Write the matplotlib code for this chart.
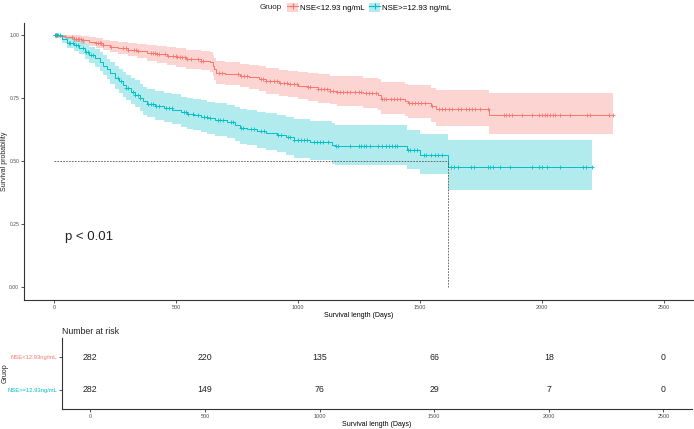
import matplotlib
matplotlib.use("Agg")
import matplotlib.pyplot as plt
import numpy as np
from matplotlib.lines import Line2D
from matplotlib.patches import Rectangle
from matplotlib.legend_handler import HandlerTuple

plt.rcParams['font.family'] = ['Liberation Sans', 'DejaVu Sans']

# ---- data ----
red_t = [0, 20, 45, 80, 110, 140, 170, 200, 230, 260, 300, 340, 380, 420, 460, 500, 540, 600, 640,
         650, 655, 662, 700, 760, 800, 840, 870, 920, 960, 1000, 1040, 1080, 1130, 1160, 1265, 1330,
         1340, 1440, 1450, 1545, 1565, 1782]
red_s = [1.0, 0.996, 0.993, 0.986, 0.982, 0.975, 0.969, 0.962, 0.955, 0.949, 0.943, 0.937, 0.930,
         0.925, 0.918, 0.912, 0.905, 0.900, 0.893, 0.880, 0.866, 0.851, 0.846, 0.840, 0.834, 0.826,
         0.818, 0.810, 0.805, 0.799, 0.793, 0.787, 0.781, 0.777, 0.770, 0.762, 0.748, 0.741, 0.733,
         0.720, 0.707, 0.684]
red_lo = [1.0, 0.988, 0.984, 0.973, 0.967, 0.958, 0.951, 0.941, 0.932, 0.924, 0.916, 0.908, 0.899,
          0.892, 0.884, 0.876, 0.868, 0.862, 0.854, 0.839, 0.824, 0.807, 0.801, 0.794, 0.787, 0.778,
          0.769, 0.760, 0.754, 0.747, 0.740, 0.733, 0.726, 0.721, 0.713, 0.704, 0.688, 0.680, 0.671,
          0.656, 0.641, 0.608]
red_hi = [1.0, 1.0, 1.0, 1.0, 0.997, 0.993, 0.988, 0.983, 0.979, 0.974, 0.970, 0.966, 0.962, 0.958,
          0.953, 0.948, 0.943, 0.939, 0.934, 0.923, 0.911, 0.898, 0.893, 0.888, 0.883, 0.877, 0.871,
          0.864, 0.860, 0.855, 0.850, 0.845, 0.840, 0.837, 0.832, 0.825, 0.814, 0.808, 0.802, 0.791,
          0.783, 0.772]
red_end = 2294
red_cens = [2, 5, 8, 12, 70, 80, 88, 95, 100, 107, 118, 170, 178, 185, 192, 200, 232, 282, 292, 300,
            328, 336, 344, 398, 405, 412, 420, 428, 455, 465, 488, 497, 505, 515, 525, 535, 545, 560,
            590, 600, 610, 675, 688, 752, 765, 780, 790, 848, 858, 870, 885, 900, 915, 927, 942, 955,
            968, 985, 997, 1040, 1050, 1080, 1092, 1105, 1118, 1130, 1145, 1160, 1172, 1185, 1200,
            1215, 1232, 1248, 1260, 1278, 1290, 1305, 1318, 1345, 1352, 1362, 1380, 1392, 1405, 1418,
            1455, 1468, 1480, 1493, 1505, 1520, 1548, 1580, 1592, 1604, 1618, 1630, 1655, 1670, 1690,
            1700, 1712, 1725, 1745, 1778, 1845, 1855, 1865, 1878, 1920, 1962, 1988, 2000, 2012, 2022,
            2035, 2045, 2055, 2075, 2116, 2186, 2198, 2275, 2292]

teal_t = [0, 30, 50, 80, 100, 125, 141, 168, 185, 200, 215, 230, 250, 265, 280, 295, 315, 332, 350,
          365, 380, 414, 450, 483, 520, 545, 570, 600, 626, 660, 708, 740, 763, 790, 831, 870, 913,
          950, 982, 1050, 1140, 1150, 1445, 1500, 1617]
teal_s = [1.0, 0.985, 0.970, 0.960, 0.950, 0.935, 0.923, 0.910, 0.895, 0.880, 0.865, 0.850, 0.831,
          0.818, 0.803, 0.789, 0.776, 0.765, 0.750, 0.738, 0.728, 0.719, 0.712, 0.705, 0.695, 0.689,
          0.683, 0.677, 0.671, 0.664, 0.655, 0.645, 0.634, 0.628, 0.621, 0.613, 0.605, 0.595, 0.585,
          0.578, 0.566, 0.559, 0.546, 0.526, 0.477]
teal_lo = [1.0, 0.971, 0.950, 0.937, 0.925, 0.906, 0.892, 0.876, 0.859, 0.842, 0.825, 0.808, 0.788,
           0.773, 0.757, 0.742, 0.727, 0.715, 0.699, 0.685, 0.674, 0.664, 0.656, 0.648, 0.637, 0.630,
           0.624, 0.617, 0.610, 0.602, 0.592, 0.580, 0.570, 0.563, 0.554, 0.545, 0.536, 0.525, 0.514,
           0.506, 0.491, 0.484, 0.470, 0.450, 0.387]
teal_hi = [1.0, 1.0, 0.990, 0.983, 0.976, 0.964, 0.955, 0.945, 0.932, 0.920, 0.907, 0.894, 0.877,
           0.866, 0.853, 0.841, 0.830, 0.821, 0.807, 0.796, 0.787, 0.779, 0.773, 0.766, 0.757, 0.752,
           0.747, 0.742, 0.737, 0.731, 0.724, 0.716, 0.708, 0.702, 0.696, 0.690, 0.684, 0.676, 0.668,
           0.662, 0.651, 0.645, 0.625, 0.610, 0.586]
teal_end = 2205
teal_cens = [2, 5, 10, 15, 22, 58, 65, 75, 88, 95, 118, 128, 138, 150, 158, 262, 272, 295, 302, 322,
             332, 342, 352, 385, 395, 405, 418, 430, 458, 470, 482, 530, 540, 550, 568, 590, 612, 625,
             638, 670, 680, 692, 725, 733, 765, 775, 808, 818, 848, 860, 918, 930, 958, 968, 982, 1000,
             1012, 1025, 1038, 1065, 1078, 1090, 1102, 1122, 1155, 1162, 1214, 1250, 1260, 1270, 1280,
             1295, 1330, 1345, 1360, 1372, 1385, 1398, 1407, 1450, 1460, 1475, 1488, 1515, 1525, 1545,
             1560, 1575, 1590, 1626, 1640, 1656, 1710, 1720, 1778, 1788, 1798, 1828, 1870, 1962, 1990,
             2002, 2022, 2075, 2168, 2180, 2205]

median_day = 1617
p_text = 'p < 0.01'

groups = ['NSE<12.93 ng/mL', 'NSE>=12.93 ng/mL']
risk_labels = ['NSE<12.93ng/mL', 'NSE>=12.93ng/mL']
risk_times = [0, 500, 1000, 1500, 2000, 2500]
risk_red = [282, 220, 135, 66, 18, 0]
risk_teal = [282, 149, 76, 29, 7, 0]

RED = '#F8766D'
TEAL = '#00BFC4'
GREY_TXT = '#4D4D4D'
W, H = 694, 429


def style_axis(ax):
	for s in ['top', 'right']:
		ax.spines[s].set_visible(False)
	for s in ['left', 'bottom']:
		ax.spines[s].set_color('#333333')
		ax.spines[s].set_linewidth(0.8)
	ax.tick_params(length=2, width=0.6, color='#333333', labelsize=4, labelcolor=GREY_TXT, pad=1.5)


def draw_km(ax, t, s, lo, hi, end, cens, color):
	t_ext = list(t) + [end]
	s_ext = list(s) + [s[-1]]
	ax.fill_between(t_ext, list(lo) + [lo[-1]], list(hi) + [hi[-1]], step='post',
	                color=color, alpha=0.3, lw=0)
	ax.step(t_ext, s_ext, where='post', color=color, lw=0.7)
	idx = np.searchsorted(t, cens, side='right') - 1
	ax.plot(cens, np.array(s)[idx], ls='none', marker='+', color=color, ms=3.5, mew=0.6)


fig = plt.figure(figsize=(W / 100, H / 100), dpi=100)

# main KM panel
ax = fig.add_axes([24 / W, 1 - 300 / H, 670 / W, (300 - 22.7) / H])
style_axis(ax)
ax.tick_params(axis='y', labelsize=3.6)
draw_km(ax, red_t, red_s, red_lo, red_hi, red_end, red_cens, RED)
draw_km(ax, teal_t, teal_s, teal_lo, teal_hi, teal_end, teal_cens, TEAL)
ax.plot([0, median_day], [0.5, 0.5], ls=(0, (2, 1.5)), color='#555555', lw=0.6)
ax.plot([median_day, median_day], [0, 0.5], ls=(0, (2, 1.5)), color='#555555', lw=0.6)
ax.text(45, 0.2, p_text, fontsize=9.5, ha='left', va='center', color='#222222')
ax.set_xlim(-125, 2625)
ax.set_ylim(-0.05, 1.05)
ax.set_xticks(risk_times)
ax.set_yticks([0, 0.25, 0.5, 0.75, 1.0])
ax.set_yticklabels(['0.00', '0.25', '0.50', '0.75', '1.00'])
ax.set_xlabel('Survival length (Days)', fontsize=5, labelpad=1.5)
fig.text(5 / W, 1 - 161 / H, 'Survival probability', fontsize=5, rotation=90,
         ha='center', va='center', color='#222222')

# legend
handles = []
for c in [RED, TEAL]:
	patch = Rectangle((0, 0), 1, 1, facecolor=c, alpha=0.3, lw=0)
	line = Line2D([], [], color=c, lw=0.8, marker='+', ms=5, mew=0.8)
	handles.append((patch, line))
fig.legend(handles, groups, handler_map={tuple: HandlerTuple(ndivide=1)}, loc='center left',
           bbox_to_anchor=(287 / W, 1 - 7.5 / H), ncol=2, frameon=False, fontsize=5.7,
           handlelength=1.4, handleheight=1.4, columnspacing=0.5, handletextpad=0.3,
           borderaxespad=0, borderpad=0)
fig.text(260 / W, 1 - 7.5 / H, 'Gruop', fontsize=5.8, ha='left', va='center', color='#222222')

# risk table
ax2 = fig.add_axes([61.7 / W, 1 - 409.3 / H, (692 - 61.7) / W, (409.3 - 337.7) / H])
style_axis(ax2)
ax2.set_xlim(-125, 2625)
ax2.set_ylim(0.4, 2.6)
ax2.set_xticks(risk_times)
ax2.set_yticks([2, 1])
ax2.set_yticklabels(risk_labels)
for lab, c in zip(ax2.get_yticklabels(), [RED, TEAL]):
	lab.set_color(c)
	lab.set_fontsize(4.2)
for x, a, b in zip(risk_times, risk_red, risk_teal):
	ax2.text(x, 2, str(a), fontsize=6.3, ha='center', va='center', color='#222222')
	ax2.text(x, 1, str(b), fontsize=6.3, ha='center', va='center', color='#222222')
ax2.set_title('Number at risk', loc='left', fontsize=6.3, pad=3, color='#222222')
ax2.set_xlabel('Survival length (Days)', fontsize=5, labelpad=1.5)
fig.text(5 / W, 1 - 373 / H, 'Gruop', fontsize=5, rotation=90,
         ha='center', va='center', color='#222222')

plt.savefig('out.png', dpi=100)
